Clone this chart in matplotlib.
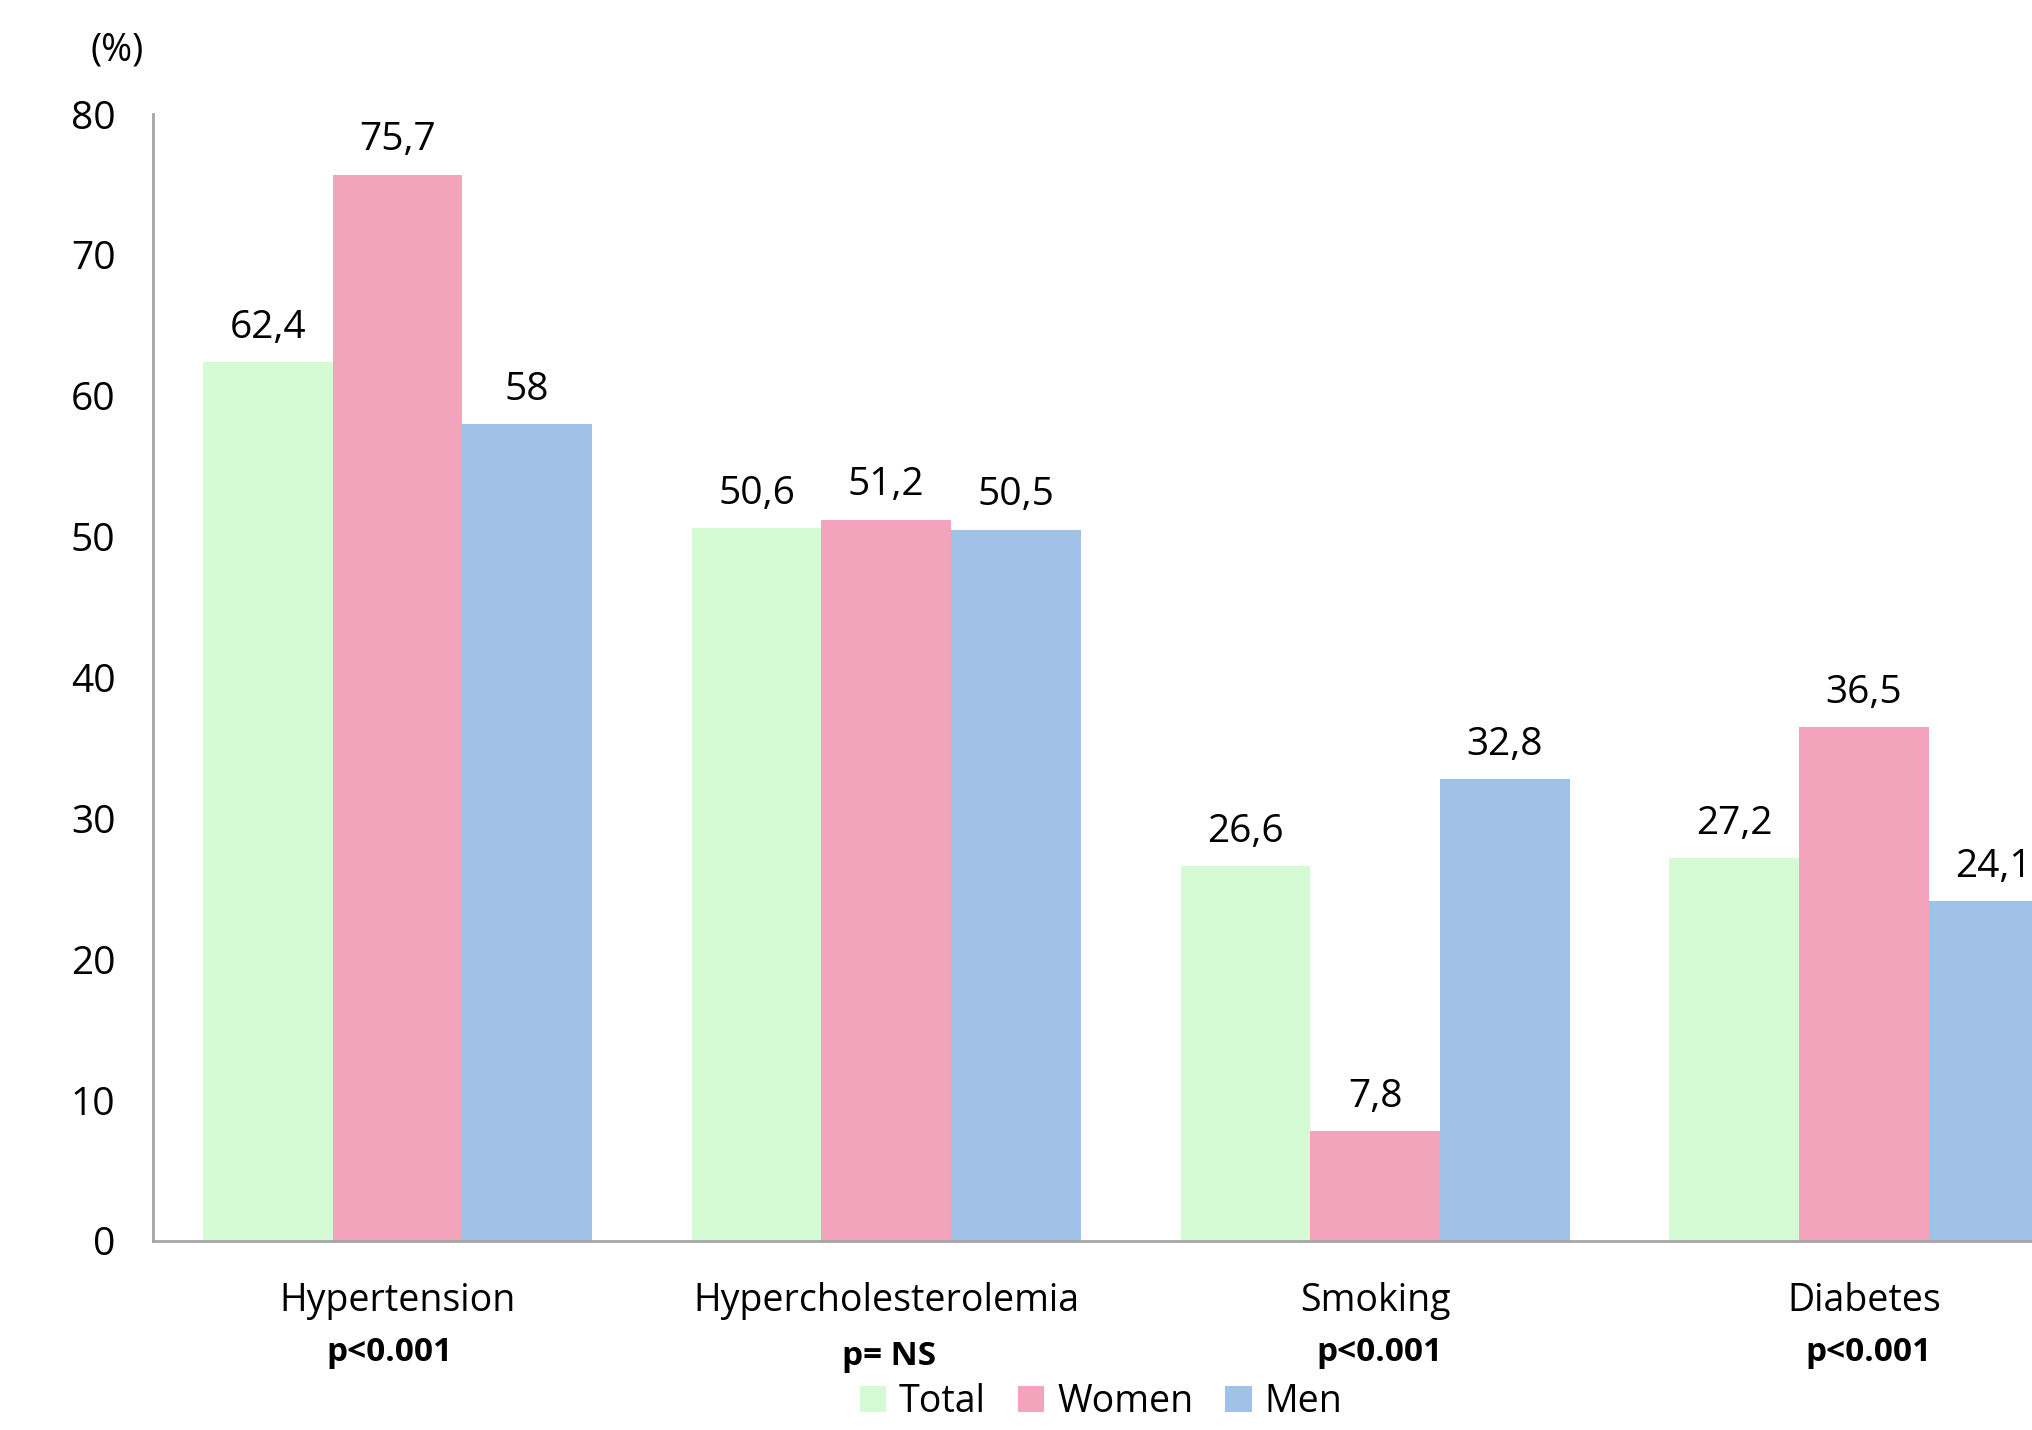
import matplotlib
matplotlib.use("Agg")
import matplotlib.pyplot as plt
import numpy as np

categories = ["Hypertension", "Hypercholesterolemia", "Smoking", "Diabetes"]
p_values = ["p<0.001", "p= NS", "p<0.001", "p<0.001"]
series_names = ["Total", "Women", "Men"]
total = [62.4, 50.6, 26.6, 27.2]
women = [75.7, 51.2, 7.8, 36.5]
men = [58.0, 50.5, 32.8, 24.1]
value_labels = [
    ["62,4", "50,6", "26,6", "27,2"],
    ["75,7", "51,2", "7,8", "36,5"],
    ["58", "50,5", "32,8", "24,1"],
]
yticks = [0, 10, 20, 30, 40, 50, 60, 70, 80]

colors = ["#D4FBD4", "#F4A3BC", "#A0C2E8"]

plt.rcParams["font.family"] = ["Open Sans", "DejaVu Sans"]

fig = plt.figure(figsize=(20.33, 14.30), dpi=100)
# plot area runs past the right edge of the canvas
ax = fig.add_axes([0.0753, 0.1322, 0.9617, 0.788])

x = np.arange(len(categories))
bw = 1 / 3.77
series = [total, women, men]
for i, (vals, col, name) in enumerate(zip(series, colors, series_names)):
    pos = x + (i - 1) * bw
    bars = ax.bar(pos, vals, width=bw, color=col, label=name, zorder=2)
    for b, lab in zip(bars, value_labels[i]):
        ax.annotate(lab, (b.get_x() + b.get_width() / 2, b.get_height()),
                    xytext=(0, 11), textcoords="offset points",
                    ha="center", va="bottom", fontsize=28)

ax.set_xlim(-0.5, len(categories) - 0.5)
ax.set_ylim(0, 80)
ax.set_yticks(yticks)
ax.set_yticklabels([str(t) for t in yticks], fontsize=28)
ax.tick_params(axis="y", length=0, pad=27)
ax.set_xticks([])

for s in ["top", "right"]:
    ax.spines[s].set_visible(False)
for s in ["left", "bottom"]:
    ax.spines[s].set_color("#A6A6A6")
    ax.spines[s].set_linewidth(2)

p_shift = [-6, 2, 3, 3]
for xi, cat, p, dx in zip(x, categories, p_values, p_shift):
    ax.annotate(cat, (xi, 0), xycoords=("data", "axes fraction"),
                xytext=(0, -43), textcoords="offset points",
                ha="center", va="center", fontsize=27)
    ax.annotate(p, (xi, 0), xycoords=("data", "axes fraction"),
                xytext=(dx, -80 if p != "p= NS" else -83), textcoords="offset points",
                ha="center", va="center", fontsize=24, fontweight="bold")

fig.text(117 / 2033, 1 - 50 / 1430, "(%)", ha="center", va="center", fontsize=27)

fig.legend(loc="center", bbox_to_anchor=(1101 / 2033, 1 - 1402 / 1430),
           ncol=3, frameon=False, fontsize=27, handlelength=0.7,
           handleheight=0.7, handletextpad=0.35, columnspacing=0.85)

fig.savefig("out.png", dpi=100)
